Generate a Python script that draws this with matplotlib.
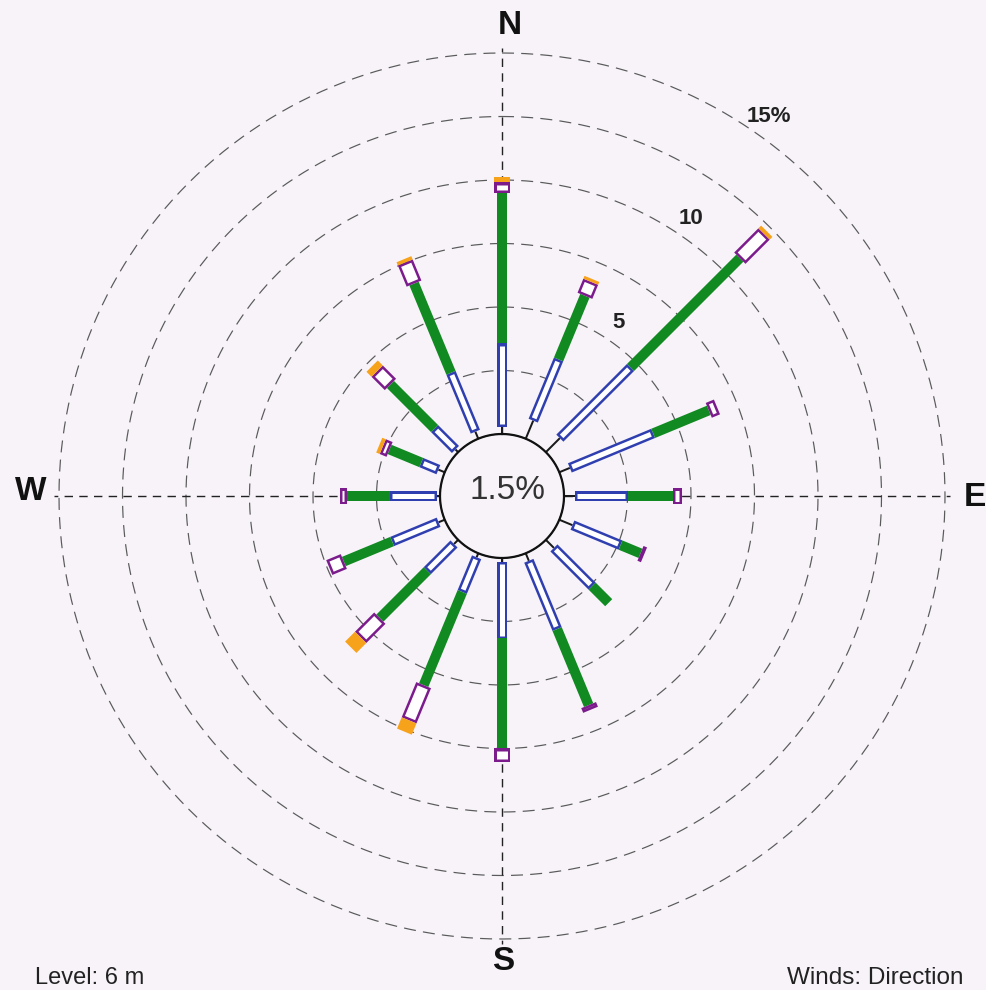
import numpy as np
import matplotlib
matplotlib.use("Agg")
import matplotlib.pyplot as plt

# ---------------- data ----------------
directions = ["N", "NNE", "NE", "ENE", "E", "ESE", "SE", "SSE",
              "S", "SSW", "SW", "WSW", "W", "WNW", "NW", "NNW"]
calm_pct = 1.5
# frequency (%) per speed class for each direction
class1 = [0.28, 0.77, 0.78, 0.45, 0.43, 0.56, 0.45, 0.32, 0.15, 0.17, 0.23, 0.26, 0.13, 0.27, 0.15, 0.30]
class2 = [3.30, 2.61, 3.94, 3.55, 2.08, 2.05, 2.13, 2.91, 3.01, 1.48, 1.49, 1.98, 1.84, 0.73, 1.16, 2.51]
class3 = [5.91, 2.71, 6.08, 2.37, 1.77, 0.85, 0.92, 3.24, 4.33, 3.97, 2.64, 2.06, 1.70, 1.35, 2.46, 3.80]
class4 = [0.43, 0.60, 1.35, 0.35, 0.35, 0.15, 0.00, 0.20, 0.53, 1.50, 1.07, 0.62, 0.27, 0.29, 0.74, 0.90]
class5 = [0.20, 0.12, 0.15, 0.00, 0.00, 0.00, 0.00, 0.00, 0.00, 0.48, 0.55, 0.00, 0.00, 0.15, 0.28, 0.14]
ring_values = [2.5, 5, 7.5, 10, 12.5, 15]
ring_labels = {5: "5", 10: "10", 15: "15%"}

# ---------------- style ----------------
BG = "#f7f3f9"
BLUE = "#2f3fb0"
GREEN = "#118a22"
PURPLE = "#7b1b8c"
ORANGE = "#f7a21b"
W, H = 987, 990
DPI = 100
PX_PER_PCT = 25.4
R0 = 62 / PX_PER_PCT        # calm circle radius in % units
RMAX = 16.5
CX, CY = 502, 496           # centre in pixels (from top-left)

def pt(px):
    return px * 72.0 / DPI

fig = plt.figure(figsize=(W / DPI, H / DPI), dpi=DPI, facecolor=BG)
rad_px = (RMAX + R0) * PX_PER_PCT
ax = fig.add_axes([(CX - rad_px) / W, (H - CY - rad_px) / H, 2 * rad_px / W, 2 * rad_px / H],
                  projection="polar")
ax.set_facecolor("none")
ax.set_theta_zero_location("N")
ax.set_theta_direction(-1)
ax.set_rorigin(-R0)
ax.set_ylim(0, RMAX)
ax.grid(False)
ax.set_xticks([])
ax.set_yticks([])
ax.spines["polar"].set_visible(False)

# dashed rings
th = np.linspace(0, 2 * np.pi, 721)
for rv in ring_values:
    ax.plot(th, np.full_like(th, rv), color="#5a5a5a", lw=pt(1.2),
            dashes=(10, 6), zorder=1)

# compass axis lines
for ang in [0, 90, 180, 270]:
    t = np.deg2rad(ang)
    ax.plot([t, t], [0, 15.2], color="#222222", lw=pt(1.4), dashes=(6, 4.5), zorder=1)

# spokes
edge_px = 2.5
d = edge_px / PX_PER_PCT
for i, name in enumerate(directions):
    t = np.deg2rad(22.5 * i)
    segs = [class1[i], class2[i], class3[i], class4[i], class5[i]]
    b = np.concatenate([[0], np.cumsum(segs)])
    # class 1: thin black line
    if segs[0] > 0:
        ax.plot([t, t], [b[0], b[1]], color="#1a1a1a", lw=pt(2.0),
                solid_capstyle="butt", zorder=3, clip_on=False)
    # class 2: hollow blue bar
    if segs[1] > 0:
        ax.plot([t, t], [b[1], b[2]], color=BLUE, lw=pt(10),
                solid_capstyle="butt", zorder=3)
        if b[2] - b[1] > 2 * d:
            ax.plot([t, t], [b[1] + d, b[2] - d], color="white", lw=pt(5),
                    solid_capstyle="butt", zorder=4)
    # class 3: filled green bar
    if segs[2] > 0:
        ax.plot([t, t], [b[2], b[3]], color=GREEN, lw=pt(10),
                solid_capstyle="butt", zorder=3)
    # class 4: hollow purple box
    if segs[3] > 0:
        ax.plot([t, t], [b[3], b[4]], color=PURPLE, lw=pt(16),
                solid_capstyle="butt", zorder=3)
        if b[4] - b[3] > 2 * d:
            ax.plot([t, t], [b[3] + d, b[4] - d], color="white", lw=pt(11),
                    solid_capstyle="butt", zorder=4)
    # class 5: filled orange
    if segs[4] > 0:
        ax.plot([t, t], [b[4], b[5]], color=ORANGE, lw=pt(16),
                solid_capstyle="butt", zorder=3)

# calm circle outline
ax.plot(th, np.zeros_like(th), color="#111111", lw=pt(2.2), zorder=5, clip_on=False)

def ftext(x, y, s, **kw):
    fig.text(x / W, 1 - y / H, s, **kw)

FONT = ["Liberation Sans", "DejaVu Sans"]
ftext(507, 490, f"{calm_pct}%", fontsize=24, color="#333333", ha="center", va="center", family=FONT)

# ring labels
ftext(619, 323, ring_labels[5], fontsize=16, fontweight="bold", color="#222222", ha="center", va="center", family=FONT)
ftext(691, 219, ring_labels[10], fontsize=16, fontweight="bold", color="#222222", ha="center", va="center", family=FONT)
ftext(769, 117, ring_labels[15], fontsize=16, fontweight="bold", color="#222222", ha="center", va="center", family=FONT)

# compass labels
ftext(510, 26, "N", fontsize=24, fontweight="bold", color="#111111", ha="center", va="center", family=FONT)
ftext(503, 961, "S", fontsize=24, fontweight="bold", color="#111111", ha="center", va="center", family=FONT)
ftext(975, 497, "E", fontsize=24, fontweight="bold", color="#111111", ha="center", va="center", family=FONT)
ftext(31, 491, "W", fontsize=24, fontweight="bold", color="#111111", ha="center", va="center", family=FONT)

ftext(35, 984, "Level: 6 m", fontsize=17, color="#222222", ha="left", va="baseline", family=FONT)
ftext(787, 984, "Winds: Direction", fontsize=17.5, color="#222222", ha="left", va="baseline", family=FONT)

fig.savefig("out.png", dpi=DPI, facecolor=BG)
